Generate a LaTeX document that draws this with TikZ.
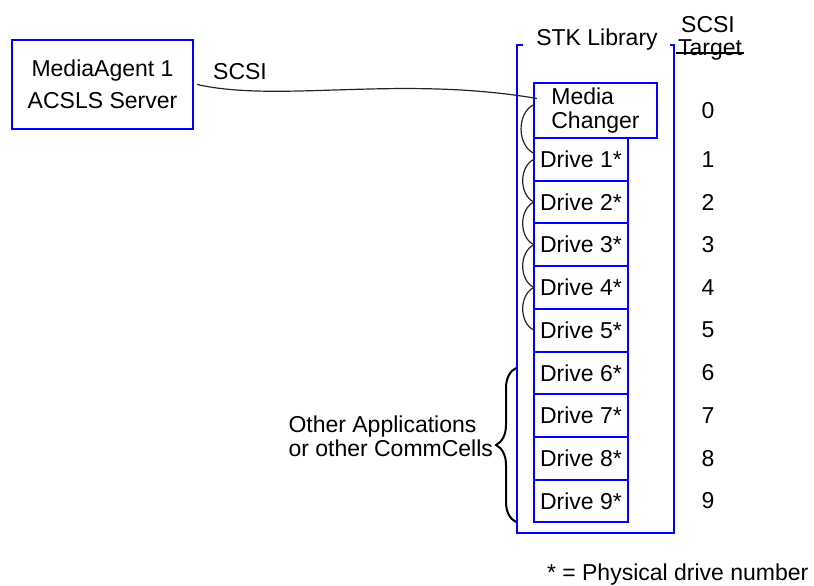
\documentclass[tikz,border=0pt]{standalone}
\usepackage{fontspec}
\setmainfont{Liberation Sans}
\usetikzlibrary{%
   calc,%
   positioning,%
   decorations.pathreplacing}

\begin{document}
\begin{tikzpicture}[x=0.5pt,y=-0.5pt,
		font=\fontsize{11.5}{12}\selectfont,
		every node/.style={inner sep=0pt,outer sep=0pt},
		box/.style={draw=blue,line width=1pt},
		drive/.style={box,minimum width=47pt,minimum height=21.35pt},
		cable/.style={draw=black!85,line width=0.6pt}]
		\useasboundingbox (0,0) rectangle (814,585);
		\node[box,minimum width=90.5pt,minimum height=44.5pt,align=center,font=\fontsize{11.5}{16}\selectfont] (ma) at (102.5,84.5) {MediaAgent 1\\ACSLS Server};
		\node (scsi) at (240,72) {SCSI};
		% library frame
		\coordinate (lib_nw) at (517,45);
		\coordinate (lib_se) at (674,533);
		\draw[box] ($(lib_nw)+(6,0)$) -- (lib_nw) -- (lib_nw |- lib_se) -- (lib_se) -- (lib_se |- lib_nw) -- ++(-4,0);
		\node (lib) at (597,40) {STK Library};
		\node[anchor=base] (scsi_t) at (708,32) {SCSI};
		\node[anchor=base] (target) at (710,55) {Target};
		\draw[line width=0.6pt] ($(target.base west)+(-2,-2)$) -- ($(target.base east)+(2,-2)$);
		\node[box,anchor=north west,minimum width=61.5pt,minimum height=27.5pt,align=left] (mc) at (534,83) {Media\\Changer};
		\node[drive,anchor=north west] (d1) at (mc.south west) {Drive 1*};
		\foreach \i [count=\j from 1] in {2,...,9}
			\node[drive,below=0pt of d\j] (d\i) {Drive \i*};
		% SCSI target numbers
		\coordinate (tgt) at (708,0);
		\node (t0) at (mc -| tgt) {0};
		\foreach \i in {1,...,9}
			\node (t\i) at (d\i -| tgt) {\i};
		% cables
		\draw[cable] ($(ma.east)+(4,0)$) .. controls (280,103) and (400,75) .. ($(mc.west)+(3,-12)$);
		\path[cable] ($(mc.west)+(0,-6)$) edge[bend right=65] ($(d1.west)+(0,-6)$);
		\foreach \i [count=\j from 1] in {2,...,5}
			\path[cable] (d\j.west) edge[bend right=65] (d\i.west);
		% other applications
		\coordinate (br_b) at (516,522);
		\coordinate (br_t) at (516,368);
		\draw[decorate,decoration={brace,amplitude=10pt},line width=1pt] (br_b) -- (br_t);
		\node[anchor=east,align=left] (other) at (493,436) {Other Applications\\or other CommCells};
		\node[anchor=west] (note) at (547,575) {* = Physical drive number};
\end{tikzpicture}
\end{document}
